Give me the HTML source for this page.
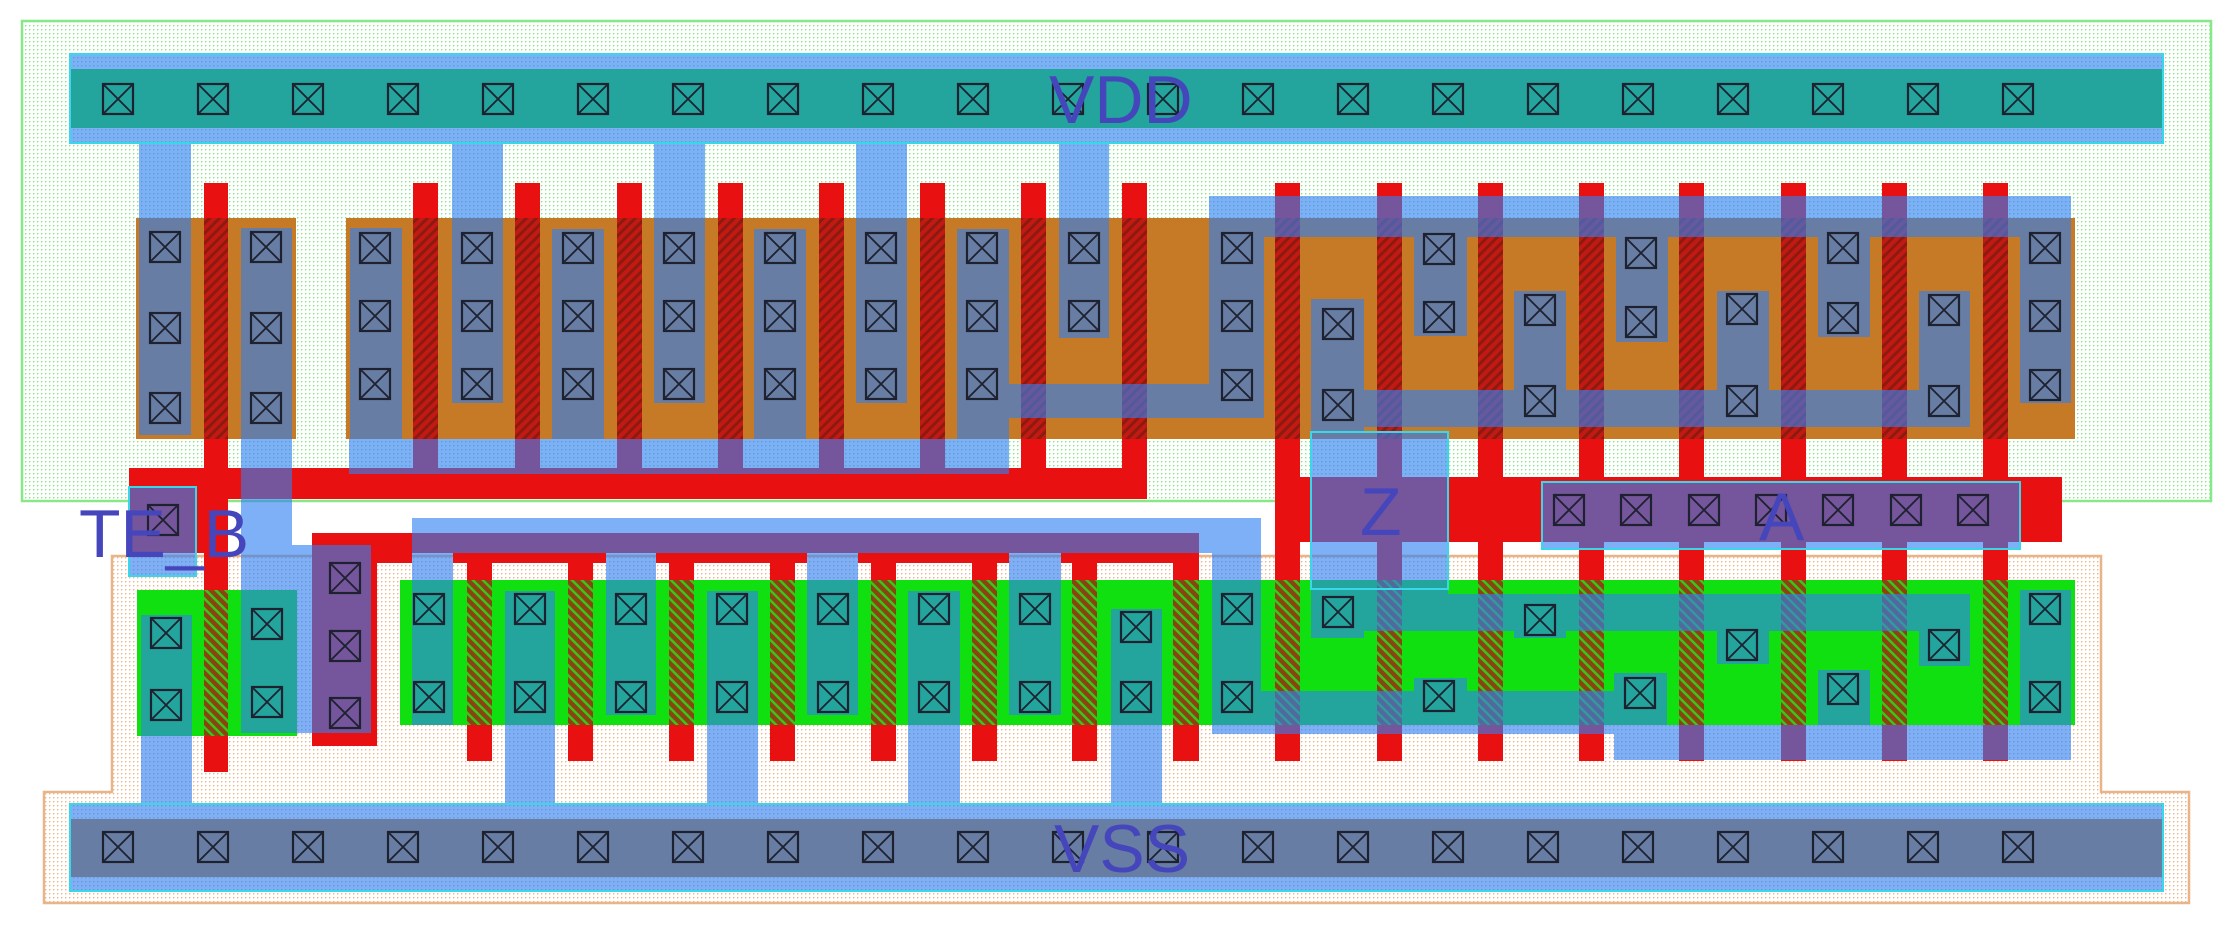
<!DOCTYPE html>
<html><head><meta charset="utf-8">
<style>html,body{margin:0;padding:0;background:#fff}svg{display:block}</style>
</head><body>
<svg width="2232" height="926" viewBox="0 0 2232 926" xmlns="http://www.w3.org/2000/svg" xmlns:xlink="http://www.w3.org/1999/xlink">
<defs>
<pattern id="nd" width="4" height="4" patternUnits="userSpaceOnUse"><rect width="4" height="4" fill="#fff"/><rect x="1" y="1" width="1.4" height="1.4" fill="#86e686"/></pattern>
<pattern id="pd" width="4" height="4" patternUnits="userSpaceOnUse"><rect width="4" height="4" fill="#fff"/><rect x="1" y="1" width="1.4" height="1.4" fill="#eeb48a"/></pattern>
<pattern id="hp" width="7" height="7" patternUnits="userSpaceOnUse" patternTransform="rotate(45)"><rect width="7" height="7" fill="#c21a12"/><rect width="3" height="7" fill="#8c1a10"/></pattern>
<pattern id="hn" width="7" height="7" patternUnits="userSpaceOnUse" patternTransform="rotate(-45)"><rect width="7" height="7" fill="#8a4412"/><rect width="2.5" height="7" fill="#3cc41a"/></pattern>
<g id="c"><rect x="1" y="1" width="30" height="30" fill="none" stroke="#1d2130" stroke-width="2.2"/><path d="M1 1L31 31M31 1L1 31" stroke="#1d2130" stroke-width="1.8"/></g>
</defs>

<rect x="22" y="21" width="2189" height="480" fill="url(#nd)" stroke="#86e886" stroke-width="2.5"/>
<polygon points="112,556 2101,556 2101,792 2189,792 2189,903 44,903 44,792 112,792" fill="url(#pd)" stroke="#e8b488" stroke-width="2.5"/>

<g fill="#c67a26">
<rect x="136" y="218" width="160" height="221"/>
<rect x="346" y="218" width="1729" height="221"/>
<rect x="70" y="819" width="2093" height="58"/>
</g>
<g fill="#10e010">
<rect x="70" y="69" width="2093" height="59"/>
<rect x="137" y="590" width="160" height="146"/>
<rect x="400" y="580" width="1675" height="145"/>
</g>

<g fill="#e81010">
<rect x="204" y="183" width="24" height="589"/>
<rect x="129" y="468" width="1018" height="31"/>
<rect x="129" y="468" width="99" height="85"/>
<rect x="413" y="183" width="25" height="300"/>
<rect x="515" y="183" width="25" height="300"/>
<rect x="617" y="183" width="25" height="300"/>
<rect x="718" y="183" width="25" height="300"/>
<rect x="819" y="183" width="25" height="300"/>
<rect x="920" y="183" width="25" height="300"/>
<rect x="1021" y="183" width="25" height="300"/>
<rect x="1122" y="183" width="25" height="300"/>
<rect x="1275" y="183" width="25" height="578"/>
<rect x="1377" y="183" width="25" height="578"/>
<rect x="1478" y="183" width="25" height="578"/>
<rect x="1579" y="183" width="25" height="578"/>
<rect x="1679" y="183" width="25" height="578"/>
<rect x="1781" y="183" width="25" height="578"/>
<rect x="1882" y="183" width="25" height="578"/>
<rect x="1983" y="183" width="25" height="578"/>
<rect x="1275" y="477" width="787" height="65"/>
<rect x="467" y="533" width="25" height="228"/>
<rect x="568" y="533" width="25" height="228"/>
<rect x="669" y="533" width="25" height="228"/>
<rect x="770" y="533" width="25" height="228"/>
<rect x="871" y="533" width="25" height="228"/>
<rect x="972" y="533" width="25" height="228"/>
<rect x="1072" y="533" width="25" height="228"/>
<rect x="1173" y="533" width="26" height="228"/>
<rect x="312" y="533" width="887" height="20"/>
<rect x="377" y="553" width="35" height="10"/>
<rect x="453" y="553" width="153" height="10"/>
<rect x="656" y="553" width="151" height="10"/>
<rect x="858" y="553" width="151" height="10"/>
<rect x="1061" y="553" width="138" height="10"/>
<rect x="312" y="533" width="65" height="213"/>
</g>

<g fill="url(#hp)">
<rect x="204" y="218" width="24" height="221"/>
<rect x="413" y="218" width="25" height="221"/>
<rect x="515" y="218" width="25" height="221"/>
<rect x="617" y="218" width="25" height="221"/>
<rect x="718" y="218" width="25" height="221"/>
<rect x="819" y="218" width="25" height="221"/>
<rect x="920" y="218" width="25" height="221"/>
<rect x="1021" y="218" width="25" height="221"/>
<rect x="1122" y="218" width="25" height="221"/>
<rect x="1275" y="218" width="25" height="221"/>
<rect x="1377" y="218" width="25" height="221"/>
<rect x="1478" y="218" width="25" height="221"/>
<rect x="1579" y="218" width="25" height="221"/>
<rect x="1679" y="218" width="25" height="221"/>
<rect x="1781" y="218" width="25" height="221"/>
<rect x="1882" y="218" width="25" height="221"/>
<rect x="1983" y="218" width="25" height="221"/>
</g>
<g fill="url(#hn)">
<rect x="204" y="590" width="24" height="146"/>
<rect x="467" y="580" width="25" height="145"/>
<rect x="568" y="580" width="25" height="145"/>
<rect x="669" y="580" width="25" height="145"/>
<rect x="770" y="580" width="25" height="145"/>
<rect x="871" y="580" width="25" height="145"/>
<rect x="972" y="580" width="25" height="145"/>
<rect x="1072" y="580" width="25" height="145"/>
<rect x="1173" y="580" width="26" height="145"/>
<rect x="1275" y="580" width="25" height="145"/>
<rect x="1377" y="580" width="25" height="145"/>
<rect x="1478" y="580" width="25" height="145"/>
<rect x="1579" y="580" width="25" height="145"/>
<rect x="1679" y="580" width="25" height="145"/>
<rect x="1781" y="580" width="25" height="145"/>
<rect x="1882" y="580" width="25" height="145"/>
<rect x="1983" y="580" width="25" height="145"/>
</g>

<g fill="#2f80f2" opacity="0.62">
<rect x="70" y="54" width="2093" height="89"/>
<rect x="70" y="804" width="2093" height="87"/>
<rect x="139" y="143" width="52" height="292"/>
<rect x="452" y="143" width="51" height="260"/>
<rect x="654" y="143" width="51" height="260"/>
<rect x="856" y="143" width="51" height="260"/>
<rect x="1059" y="143" width="50" height="195"/>
<rect x="241" y="228" width="51" height="317"/>
<rect x="241" y="545" width="130" height="188"/>
<rect x="129" y="487" width="67" height="89"/>
<rect x="350" y="228" width="52" height="211"/>
<rect x="349" y="439" width="660" height="35"/>
<rect x="552" y="229" width="52" height="210"/>
<rect x="754" y="229" width="52" height="210"/>
<rect x="957" y="229" width="52" height="245"/>
<rect x="957" y="384" width="307" height="34"/>
<rect x="1209" y="196" width="55" height="222"/>
<rect x="1209" y="196" width="862" height="41"/>
<rect x="1414" y="196" width="53" height="140"/>
<rect x="1616" y="196" width="52" height="146"/>
<rect x="1818" y="196" width="52" height="141"/>
<rect x="2020" y="196" width="51" height="207"/>
<rect x="1311" y="299" width="53" height="133"/>
<rect x="1311" y="390" width="659" height="37"/>
<rect x="1514" y="291" width="52" height="99"/>
<rect x="1717" y="291" width="52" height="99"/>
<rect x="1919" y="291" width="51" height="99"/>
<rect x="1311" y="432" width="137" height="163"/>
<rect x="1311" y="594" width="659" height="37"/>
<rect x="1311" y="594" width="53" height="44"/>
<rect x="1514" y="594" width="52" height="44"/>
<rect x="1717" y="594" width="52" height="70"/>
<rect x="1919" y="594" width="51" height="72"/>
<rect x="1542" y="482" width="478" height="67"/>
<rect x="141" y="615" width="51" height="189"/>
<rect x="412" y="518" width="849" height="35"/>
<rect x="412" y="518" width="41" height="207"/>
<rect x="606" y="518" width="50" height="197"/>
<rect x="807" y="518" width="51" height="197"/>
<rect x="1009" y="518" width="52" height="197"/>
<rect x="1212" y="518" width="49" height="216"/>
<rect x="505" y="591" width="50" height="213"/>
<rect x="707" y="591" width="51" height="213"/>
<rect x="908" y="591" width="52" height="213"/>
<rect x="1111" y="609" width="51" height="195"/>
<rect x="1212" y="691" width="402" height="43"/>
<rect x="1414" y="678" width="53" height="13"/>
<rect x="1614" y="725" width="457" height="35"/>
<rect x="1614" y="673" width="53" height="87"/>
<rect x="1818" y="670" width="52" height="55"/>
<rect x="2020" y="590" width="51" height="170"/>
</g>

<g>
<use xlink:href="#c" x="102" y="83"/><use xlink:href="#c" x="197" y="83"/><use xlink:href="#c" x="292" y="83"/><use xlink:href="#c" x="387" y="83"/><use xlink:href="#c" x="482" y="83"/><use xlink:href="#c" x="577" y="83"/><use xlink:href="#c" x="672" y="83"/><use xlink:href="#c" x="767" y="83"/><use xlink:href="#c" x="862" y="83"/><use xlink:href="#c" x="957" y="83"/><use xlink:href="#c" x="1052" y="83"/><use xlink:href="#c" x="1147" y="83"/><use xlink:href="#c" x="1242" y="83"/><use xlink:href="#c" x="1337" y="83"/><use xlink:href="#c" x="1432" y="83"/><use xlink:href="#c" x="1527" y="83"/><use xlink:href="#c" x="1622" y="83"/><use xlink:href="#c" x="1717" y="83"/><use xlink:href="#c" x="1812" y="83"/><use xlink:href="#c" x="1907" y="83"/><use xlink:href="#c" x="2002" y="83"/>
<use xlink:href="#c" x="102" y="831"/><use xlink:href="#c" x="197" y="831"/><use xlink:href="#c" x="292" y="831"/><use xlink:href="#c" x="387" y="831"/><use xlink:href="#c" x="482" y="831"/><use xlink:href="#c" x="577" y="831"/><use xlink:href="#c" x="672" y="831"/><use xlink:href="#c" x="767" y="831"/><use xlink:href="#c" x="862" y="831"/><use xlink:href="#c" x="957" y="831"/><use xlink:href="#c" x="1052" y="831"/><use xlink:href="#c" x="1147" y="831"/><use xlink:href="#c" x="1242" y="831"/><use xlink:href="#c" x="1337" y="831"/><use xlink:href="#c" x="1432" y="831"/><use xlink:href="#c" x="1527" y="831"/><use xlink:href="#c" x="1622" y="831"/><use xlink:href="#c" x="1717" y="831"/><use xlink:href="#c" x="1812" y="831"/><use xlink:href="#c" x="1907" y="831"/><use xlink:href="#c" x="2002" y="831"/>
<use xlink:href="#c" x="149" y="231"/><use xlink:href="#c" x="149" y="312"/><use xlink:href="#c" x="149" y="392"/>
<use xlink:href="#c" x="250" y="231"/><use xlink:href="#c" x="250" y="312"/><use xlink:href="#c" x="250" y="392"/>
<use xlink:href="#c" x="359" y="232"/><use xlink:href="#c" x="359" y="300"/><use xlink:href="#c" x="359" y="368"/>
<use xlink:href="#c" x="461" y="232"/><use xlink:href="#c" x="461" y="300"/><use xlink:href="#c" x="461" y="368"/>
<use xlink:href="#c" x="562" y="232"/><use xlink:href="#c" x="562" y="300"/><use xlink:href="#c" x="562" y="368"/>
<use xlink:href="#c" x="663" y="232"/><use xlink:href="#c" x="663" y="300"/><use xlink:href="#c" x="663" y="368"/>
<use xlink:href="#c" x="764" y="232"/><use xlink:href="#c" x="764" y="300"/><use xlink:href="#c" x="764" y="368"/>
<use xlink:href="#c" x="865" y="232"/><use xlink:href="#c" x="865" y="300"/><use xlink:href="#c" x="865" y="368"/>
<use xlink:href="#c" x="966" y="232"/><use xlink:href="#c" x="966" y="300"/><use xlink:href="#c" x="966" y="368"/>
<use xlink:href="#c" x="1068" y="232"/><use xlink:href="#c" x="1068" y="300"/>
<use xlink:href="#c" x="1221" y="232"/><use xlink:href="#c" x="1221" y="300"/><use xlink:href="#c" x="1221" y="369"/>
<use xlink:href="#c" x="1423" y="233"/><use xlink:href="#c" x="1423" y="301"/>
<use xlink:href="#c" x="1625" y="237"/><use xlink:href="#c" x="1625" y="306"/>
<use xlink:href="#c" x="1827" y="232"/><use xlink:href="#c" x="1827" y="302"/>
<use xlink:href="#c" x="2029" y="232"/><use xlink:href="#c" x="2029" y="300"/><use xlink:href="#c" x="2029" y="369"/>
<use xlink:href="#c" x="1322" y="308"/><use xlink:href="#c" x="1322" y="389"/>
<use xlink:href="#c" x="1524" y="294"/><use xlink:href="#c" x="1524" y="385"/>
<use xlink:href="#c" x="1726" y="293"/><use xlink:href="#c" x="1726" y="385"/>
<use xlink:href="#c" x="1928" y="294"/><use xlink:href="#c" x="1928" y="385"/>
<use xlink:href="#c" x="147" y="504"/>
<use xlink:href="#c" x="329" y="562"/><use xlink:href="#c" x="329" y="630"/><use xlink:href="#c" x="329" y="697"/>
<use xlink:href="#c" x="1553" y="494"/><use xlink:href="#c" x="1620" y="494"/><use xlink:href="#c" x="1688" y="494"/><use xlink:href="#c" x="1755" y="494"/><use xlink:href="#c" x="1822" y="494"/><use xlink:href="#c" x="1890" y="494"/><use xlink:href="#c" x="1957" y="494"/>
<use xlink:href="#c" x="150" y="617"/><use xlink:href="#c" x="150" y="689"/>
<use xlink:href="#c" x="251" y="608"/><use xlink:href="#c" x="251" y="686"/>
<use xlink:href="#c" x="413" y="593"/><use xlink:href="#c" x="413" y="681"/>
<use xlink:href="#c" x="514" y="593"/><use xlink:href="#c" x="514" y="681"/>
<use xlink:href="#c" x="615" y="593"/><use xlink:href="#c" x="615" y="681"/>
<use xlink:href="#c" x="716" y="593"/><use xlink:href="#c" x="716" y="681"/>
<use xlink:href="#c" x="817" y="593"/><use xlink:href="#c" x="817" y="681"/>
<use xlink:href="#c" x="918" y="593"/><use xlink:href="#c" x="918" y="681"/>
<use xlink:href="#c" x="1019" y="593"/><use xlink:href="#c" x="1019" y="681"/>
<use xlink:href="#c" x="1120" y="611"/><use xlink:href="#c" x="1120" y="681"/>
<use xlink:href="#c" x="1221" y="593"/><use xlink:href="#c" x="1221" y="681"/>
<use xlink:href="#c" x="1322" y="596"/>
<use xlink:href="#c" x="1524" y="604"/>
<use xlink:href="#c" x="1726" y="629"/>
<use xlink:href="#c" x="1928" y="629"/>
<use xlink:href="#c" x="1423" y="680"/>
<use xlink:href="#c" x="1624" y="677"/>
<use xlink:href="#c" x="1827" y="673"/>
<use xlink:href="#c" x="2029" y="593"/><use xlink:href="#c" x="2029" y="681"/>
</g>

<g fill="none" stroke="#38d8e8" stroke-width="2">
<rect x="70" y="54" width="2093" height="89"/>
<rect x="70" y="804" width="2093" height="87"/>
<rect x="129" y="487" width="67" height="89"/>
<rect x="1311" y="432" width="137" height="157"/>
<rect x="1542" y="482" width="478" height="67"/>
</g>

<g font-family="'Liberation Sans', Arial, sans-serif" font-size="68" fill="#4646bc">
<text x="1049" y="123">VDD</text>
<text x="1054" y="872">VSS</text>
<text x="79" y="557">TE_B</text>
<text x="1360" y="535">Z</text>
<text x="1759" y="540">A</text>
</g>
</svg>
</body></html>
